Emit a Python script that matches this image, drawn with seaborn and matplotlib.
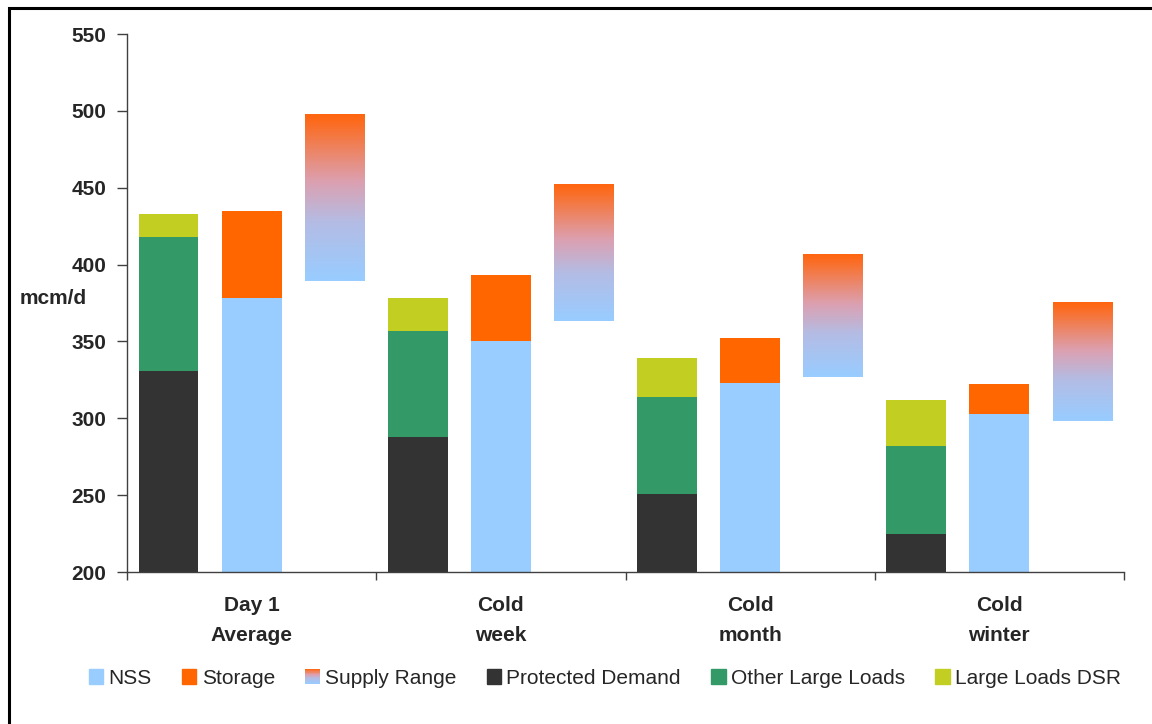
import numpy as np
import pandas as pd
import matplotlib
matplotlib.use("Agg")
import matplotlib.pyplot as plt
import seaborn as sns
from matplotlib.patches import Rectangle, Patch
from matplotlib.legend_handler import HandlerBase
from matplotlib.colors import LinearSegmentedColormap

# ---------------- data ----------------
categories = ["Day 1\nAverage", "Cold\nweek", "Cold\nmonth", "Cold\nwinter"]
protected_demand = [331, 288, 251, 225]
other_large_loads = [87, 69, 63, 57]
large_loads_dsr = [15, 21, 25, 30]
nss = [378, 350, 323, 303]
storage = [57, 43, 29, 19]
supply_low = [389, 363, 327, 298]
supply_high = [497, 452, 407, 375]
yticks = [200, 250, 300, 350, 400, 450, 500, 550]

# ---------------- style ----------------
C_NSS = "#99CCFF"
C_STORAGE = "#FF6600"
C_PROT = "#333333"
C_OTHER = "#339966"
C_DSR = "#C2CE22"
grad_cmap = LinearSegmentedColormap.from_list(
    "supply", [(0.0, "#99CCFF"), (0.35, "#B4BCE4"), (0.6, "#DCA0B0"), (1.0, "#FF6611")],
    N=1024,
)

sns.set_theme(style="ticks")
plt.rcParams["font.family"] = ["Liberation Sans", "DejaVu Sans"]

fig = plt.figure(figsize=(11.52, 7.24), dpi=100)
ax = fig.add_axes([127 / 1152, 1 - 572 / 724, (1124 - 127) / 1152, (572 - 34) / 724])

idx = np.arange(len(categories))
bw = 0.24
off = 1 / 3

# demand column (stacked, drawn back to front)
tot_other = np.array(protected_demand) + np.array(other_large_loads)
tot_dsr = tot_other + np.array(large_loads_dsr)
xd = idx - off
for vals, col in [(tot_dsr, C_DSR), (tot_other, C_OTHER), (protected_demand, C_PROT)]:
    sns.barplot(x=xd, y=vals, native_scale=True, orient="x", width=bw,
                color=col, saturation=1, linewidth=0, ax=ax, errorbar=None)

# supply column
tot_storage = np.array(nss) + np.array(storage)
xs = idx.astype(float)
for vals, col in [(tot_storage, C_STORAGE), (nss, C_NSS)]:
    sns.barplot(x=xs + 0.0001, y=vals, native_scale=True, orient="x", width=bw,
                color=col, saturation=1, linewidth=0, ax=ax, errorbar=None)

# supply range gradient bars
grad = np.repeat(np.linspace(0, 1, 40).reshape(-1, 1), 2, axis=1)
xr = idx + off
for x, lo, hi in zip(xr, supply_low, supply_high):
    ax.imshow(grad, cmap=grad_cmap, origin="lower", aspect="auto",
              extent=[x - bw / 2, x + bw / 2, lo, hi], zorder=2,
              interpolation="bilinear", interpolation_stage="rgba")

ax.set_xlim(-0.5, len(categories) - 0.5)
ax.set_ylim(200, 550)
ax.set_yticks(yticks)
ax.set_yticklabels([str(v) for v in yticks], fontsize=15, fontweight="bold")
ax.set_xticks(np.arange(len(categories) + 1) - 0.5)
ax.set_xticklabels([])
ax.set_xticks(idx, minor=True)
ax.set_xticklabels(categories, minor=True, fontsize=15, fontweight="bold",
                   linespacing=1.75)
ax.tick_params(axis="x", which="minor", length=0, pad=17)
ax.tick_params(axis="x", which="major", length=6, width=1, color="#404040", direction="out")
ax.tick_params(axis="y", length=7, width=1, color="#404040", pad=8, direction="out")
ax.set_xlabel("")
ax.set_ylabel("")
for s in ["top", "right"]:
    ax.spines[s].set_visible(False)
for s in ["left", "bottom"]:
    ax.spines[s].set_color("#404040")
    ax.spines[s].set_linewidth(1)

fig.text(20 / 1152, 1 - 298 / 724, "mcm/d", fontsize=15, fontweight="bold",
         ha="left", va="center")


# legend with gradient handle
class GradientHandler(HandlerBase):
    def create_artists(self, legend, orig_handle, xdescent, ydescent,
                       width, height, fontsize, trans):
        n = 24
        arts = []
        for i in range(n):
            r = Rectangle((-xdescent, -ydescent + i * height / n), width, height / n + 0.3,
                          facecolor=grad_cmap((i + 0.5) / n), edgecolor="none",
                          transform=trans)
            arts.append(r)
        return arts


class GradProxy:
    pass


handles = [Patch(color=C_NSS), Patch(color=C_STORAGE), GradProxy(),
           Patch(color=C_PROT), Patch(color=C_OTHER), Patch(color=C_DSR)]
labels = ["NSS", "Storage", "Supply Range", "Protected Demand",
          "Other Large Loads", "Large Loads DSR"]
fig.legend(handles, labels, loc="center", bbox_to_anchor=(0.525, 1 - 678 / 724),
           ncol=6, frameon=False, fontsize=15, handlelength=0.7, handleheight=0.7,
           handletextpad=0.25, columnspacing=1.45,
           handler_map={GradProxy: GradientHandler()})

# figure frame (runs off the right and bottom edges)
fig.patches.append(Rectangle((9 / 1152, -0.05), 1.2, 1 - 8 / 724 + 0.05, fill=False,
                             edgecolor="black", linewidth=2.2, transform=fig.transFigure))

fig.savefig("out.png", dpi=100)
